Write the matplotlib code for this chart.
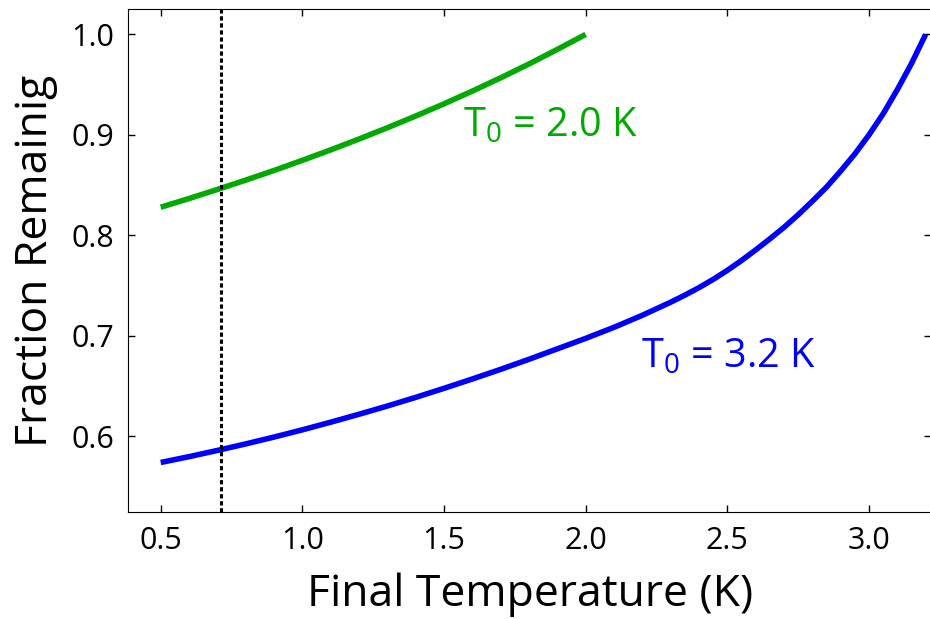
import numpy as np
import matplotlib
matplotlib.use('Agg')
import matplotlib.pyplot as plt

plt.rcParams['font.family'] = ['Open Sans', 'DejaVu Sans']

# final temperature (K)
t_green = [0.5, 0.6, 0.7, 0.8, 0.9, 1.0, 1.1, 1.2, 1.3, 1.4, 1.5, 1.6, 1.7, 1.8, 1.9, 2.0]
# fraction remaining, T0 = 2.0 K
f_green = [0.828, 0.8367, 0.8457, 0.855, 0.8646, 0.8747, 0.8851, 0.8959, 0.9071, 0.9188,
           0.9309, 0.9436, 0.9568, 0.9706, 0.9851, 1.0]

t_blue = [0.5, 0.6, 0.7, 0.8, 0.9, 1.0, 1.1, 1.2, 1.3, 1.4, 1.5, 1.6, 1.7, 1.8, 1.9, 2.0,
          2.1, 2.2, 2.3, 2.35, 2.4, 2.45, 2.5, 2.55, 2.6, 2.65, 2.7, 2.75, 2.8, 2.85,
          2.9, 2.95, 3.0, 3.05, 3.1, 3.15, 3.2]
# fraction remaining, T0 = 3.2 K
f_blue = [0.574, 0.5798, 0.5860, 0.5925, 0.5993, 0.6065, 0.6141, 0.6220, 0.6302, 0.6388,
          0.6478, 0.6571, 0.6667, 0.6767, 0.6871, 0.6975, 0.7085, 0.7205, 0.7335, 0.7405,
          0.748, 0.7562, 0.7652, 0.775, 0.7855, 0.7965, 0.808, 0.8205, 0.834, 0.848,
          0.864, 0.881, 0.900, 0.921, 0.945, 0.971, 1.0]

t_line = 0.712          # vertical marker
labels = [r'T$_\mathregular{0}$ = 2.0 K', r'T$_\mathregular{0}$ = 3.2 K']

fig = plt.figure(figsize=(9.3, 6.19), dpi=100)
ax = fig.add_axes([0.138, 0.1733, 0.8634, 0.8117])

ax.plot(t_green, f_green, color='#00aa00', lw=4, solid_capstyle='butt')
ax.plot(t_blue, f_blue, color='#0000ff', lw=4, solid_capstyle='butt')
ax.axvline(t_line, color='k', lw=2.2, linestyle=(0, (1.4, 0.9)))

ax.text(1.567, 0.899, labels[0], color='#00aa00', fontsize=28.5, ha='left', va='baseline')
ax.text(2.195, 0.669, labels[1], color='#0000ff', fontsize=28.5, ha='left', va='baseline')

ax.set_xlim(0.3857, 3.22)
ax.set_ylim(0.525, 1.025)
ax.set_xticks([0.5, 1.0, 1.5, 2.0, 2.5, 3.0])
ax.set_yticks([0.6, 0.7, 0.8, 0.9, 1.0])
ax.tick_params(direction='in', top=True, right=True, length=5, width=1, labelsize=22, pad=10)
ax.set_xlabel('Final Temperature (K)', fontsize=32, labelpad=12)
ax.set_ylabel('Fraction Remainig', fontsize=32, labelpad=10)

plt.savefig('out.png', dpi=100)
